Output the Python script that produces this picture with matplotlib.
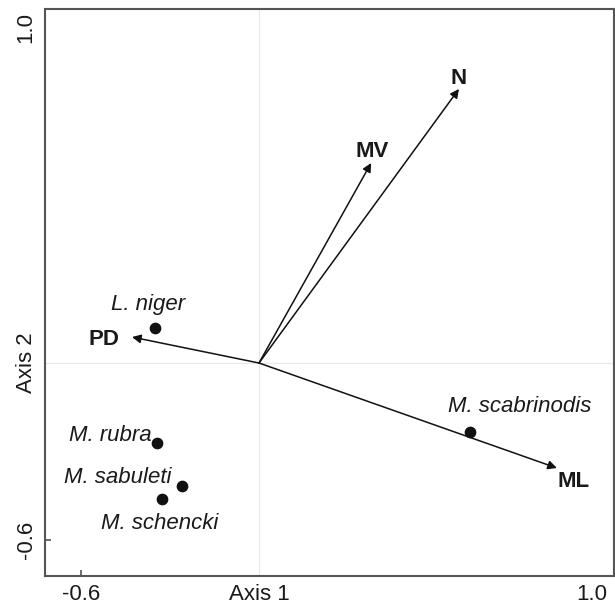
import matplotlib.pyplot as plt

plt.rcParams['font.family'] = ['Liberation Sans', 'DejaVu Sans']

# environmental variables (arrow tips)
env_names = ['N', 'MV', 'PD', 'ML']
env_x = [0.674, 0.378, -0.428, 1.004]
env_y = [0.929, 0.678, 0.088, -0.356]

# species scores
species = ['L. niger', 'M. rubra', 'M. sabuleti', 'M. schencki', 'M. scabrinodis']
sp_x = [-0.351, -0.345, -0.260, -0.328, 0.710]
sp_y = [0.119, -0.271, -0.417, -0.461, -0.234]

# label placement (pixels) and alignment
env_off = [(0, 10), (1, 11), (-28, -2), (17, -13)]
sp_off = [(-7, 23), (-5, 7), (-10, 9), (-2, -24), (50, 26)]
sp_ha = ['center', 'right', 'right', 'center', 'center']

fig = plt.figure(figsize=(6.15, 6.09), dpi=100)
ax = fig.add_axes([45 / 615, 1 - 576 / 609, 569 / 615, 567 / 609])
ax.set_xlim(-0.7213, 1.1966)
ax.set_ylim(-0.722, 1.2)

ax.axvline(0, color='#e8e8e8', lw=0.8, zorder=0)
ax.axhline(0, color='#e8e8e8', lw=0.8, zorder=0)

txt_col = '#1a1a1a'
for i, name in enumerate(env_names):
    ax.annotate('', xy=(env_x[i], env_y[i]), xytext=(0, 0),
                arrowprops=dict(arrowstyle='-|>', color='#111111', lw=1.1,
                                mutation_scale=13, shrinkA=0, shrinkB=0))
    ax.annotate(name, (env_x[i], env_y[i]), xytext=env_off[i],
                textcoords='offset pixels', ha='center', va='center',
                fontsize=16, fontweight='bold', color=txt_col)

ax.scatter(sp_x, sp_y, s=55, color='#111111', zorder=3)
for i, name in enumerate(species):
    ax.annotate(name, (sp_x[i], sp_y[i]), xytext=sp_off[i],
                textcoords='offset pixels', ha=sp_ha[i], va='center',
                fontsize=16, fontstyle='italic', color=txt_col)

ax.set_xticks([-0.6, 0, 1.122])
ax.set_xticklabels(['-0.6', 'Axis 1', '1.0'])
ax.set_yticks([-0.6, 0, 1.136])
ax.set_yticklabels(['-0.6', 'Axis 2', '1.0'], rotation=90, va='center')
ax.tick_params(direction='in', length=4, width=1.2, color='#555555',
               labelsize=16, labelcolor=txt_col, pad=6)
for axis in (ax.xaxis, ax.yaxis):
    ticks = axis.get_major_ticks()
    for t in ticks[1:]:
        t.tick1line.set_visible(False)

for sp in ax.spines.values():
    sp.set_color('#555555')
    sp.set_linewidth(1.5)

fig.savefig('out.png', dpi=100)
